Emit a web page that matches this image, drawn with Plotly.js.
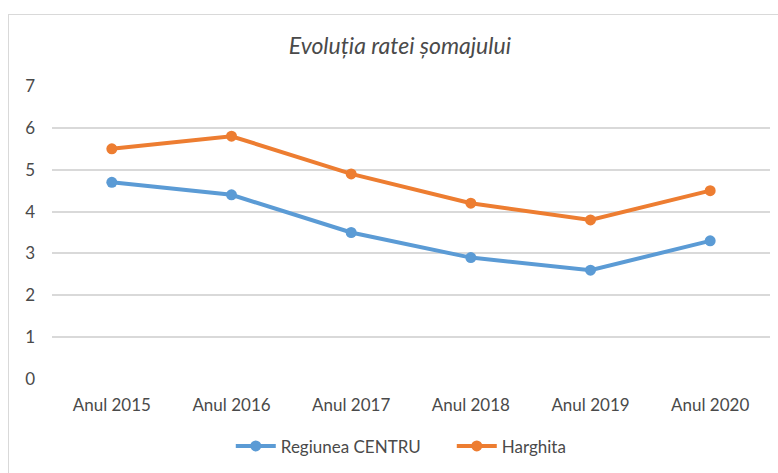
<!DOCTYPE html>
<html>
<head>
<meta charset="utf-8">
<script src="https://cdn.plot.ly/plotly-3.0.1.min.js"></script>
<style>
html,body{margin:0;padding:0;background:#fff;overflow:hidden;}
#frame{position:absolute;left:8px;top:14px;width:800px;height:500px;border:1.5px solid #d9d9d9;box-sizing:border-box;}
#chart{position:absolute;left:0;top:0;width:778px;height:473px;}
</style>
</head>
<body>
<div id="frame"></div>
<div id="chart"></div>
<script>
var categories = ["Anul 2015","Anul 2016","Anul 2017","Anul 2018","Anul 2019","Anul 2020"];
var centru = [4.7, 4.4, 3.5, 2.9, 2.6, 3.3];
var harghita = [5.5, 5.8, 4.9, 4.2, 3.8, 4.5];
var font = "Lato, 'Open Sans', sans-serif";
var txt = "#4a4a4a";
var traces = [
  {x: categories, y: centru, name: "Regiunea CENTRU", type: "scatter", mode: "lines+markers",
   line: {color: "#5B9BD5", width: 4}, marker: {color: "#5B9BD5", size: 11}},
  {x: categories, y: harghita, name: "Harghita", type: "scatter", mode: "lines+markers",
   line: {color: "#ED7D31", width: 4}, marker: {color: "#ED7D31", size: 11}}
];
var layout = {
  width: 778, height: 473,
  paper_bgcolor: "rgba(0,0,0,0)", plot_bgcolor: "rgba(0,0,0,0)",
  margin: {l: 52, r: 8, t: 86, b: 91},
  font: {family: font, size: 17, color: txt},
  title: {text: "<i>Evoluția ratei șomajului</i>", x: 0.514, xanchor: "center", y: 0.903, yanchor: "middle",
          font: {family: font, size: 23, color: txt}},
  xaxis: {type: "category", range: [-0.5, 5.5], showgrid: false, zeroline: false, showline: false,
          ticks: "", ticklabelstandoff: 14, tickfont: {size: 17, color: txt}, fixedrange: true},
  yaxis: {range: [0, 7], dtick: 1, showgrid: true, gridcolor: "#d9d9d9", gridwidth: 2,
          zeroline: false, showline: false, ticks: "", ticklabelstandoff: 16,
          tickfont: {size: 17, color: txt}, fixedrange: true},
  showlegend: true,
  legend: {orientation: "h", x: 0.249, xanchor: "left", y: -0.23, yanchor: "middle",
           font: {size: 17, color: txt}, itemwidth: 40, entrywidth: 166, entrywidthmode: "pixels"},
  hovermode: false
};
Plotly.newPlot("chart", traces, layout, {displayModeBar: false, staticPlot: true});
</script>
</body>
</html>
